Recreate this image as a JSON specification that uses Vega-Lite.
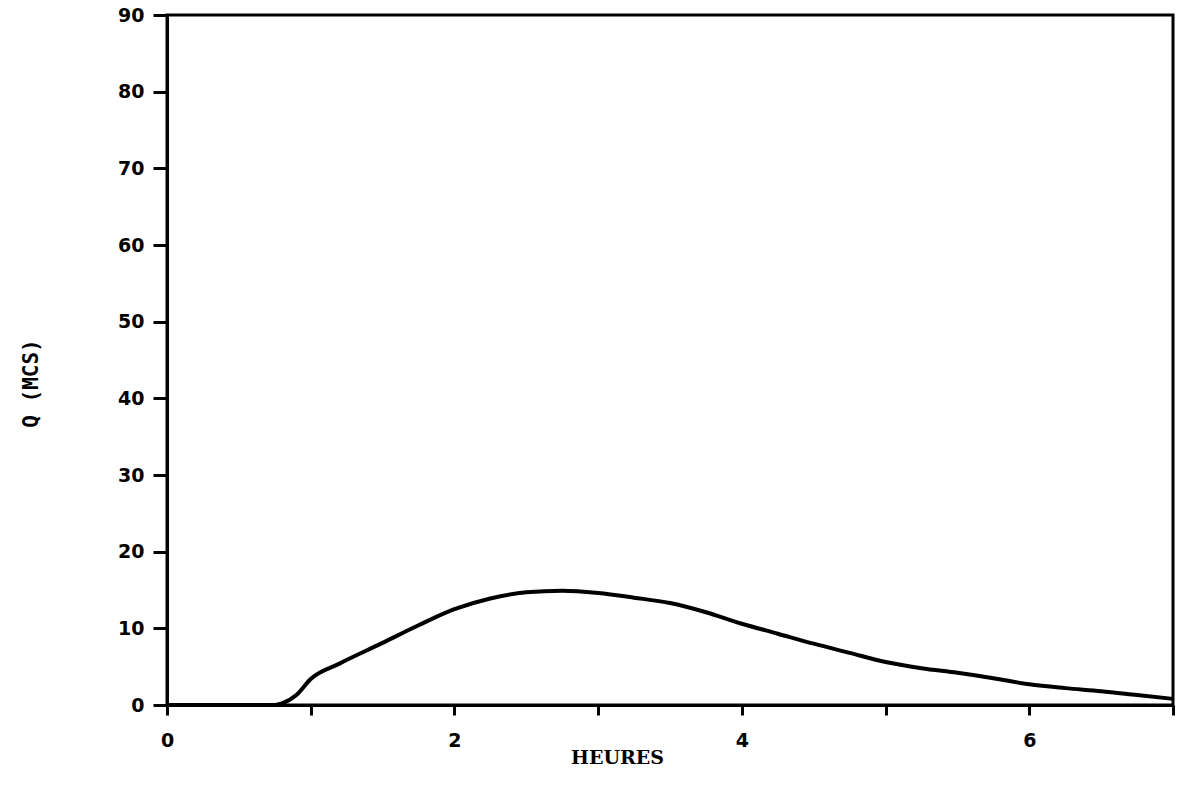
{
  "$schema": "https://vega.github.io/schema/vega-lite/v6.json",
  "autosize": {"type": "none"},
  "width": 1006,
  "height": 690,
  "padding": {"left": 167, "top": 15, "right": 4, "bottom": 94},
  "background": "white",
  "config": {
    "view": {"stroke": "black", "strokeWidth": 3},
    "font": "DejaVu Sans Mono"
  },
  "data": {
    "values": [
      {"h": 0, "q": 0}, {"h": 0.5, "q": 0}, {"h": 0.75, "q": 0}, {"h": 0.8, "q": 0.2},
      {"h": 0.9, "q": 1.3}, {"h": 1.0, "q": 3.4}, {"h": 1.2, "q": 5.4}, {"h": 1.5, "q": 8.1},
      {"h": 1.75, "q": 10.4}, {"h": 2.0, "q": 12.5}, {"h": 2.25, "q": 13.9}, {"h": 2.5, "q": 14.7},
      {"h": 2.75, "q": 14.9}, {"h": 3.0, "q": 14.6}, {"h": 3.25, "q": 14.0}, {"h": 3.5, "q": 13.3},
      {"h": 3.75, "q": 12.1}, {"h": 4.0, "q": 10.6}, {"h": 4.25, "q": 9.3}, {"h": 4.5, "q": 8.0},
      {"h": 4.75, "q": 6.8}, {"h": 5.0, "q": 5.6}, {"h": 5.25, "q": 4.8}, {"h": 5.5, "q": 4.2},
      {"h": 5.75, "q": 3.5}, {"h": 6.0, "q": 2.7}, {"h": 6.25, "q": 2.2}, {"h": 6.5, "q": 1.8},
      {"h": 6.75, "q": 1.3}, {"h": 7.0, "q": 0.8}
    ]
  },
  "mark": {"type": "line", "color": "black", "strokeWidth": 4, "interpolate": "monotone"},
  "encoding": {
    "x": {
      "field": "h", "type": "quantitative",
      "scale": {"domain": [0, 7], "nice": false, "zero": false},
      "axis": {
        "title": "HEURES", "values": [0, 1, 2, 3, 4, 5, 6, 7],
        "labelExpr": "datum.value % 2 == 0 && datum.value < 7 ? datum.label : ''",
        "labelFlush": false,
        "grid": false, "domainColor": "black", "domainWidth": 3,
        "tickColor": "black", "tickWidth": 3, "tickSize": 10,
        "labelFont": "DejaVu Sans", "labelFontWeight": "bold", "labelFontSize": 19, "labelColor": "black",
        "labelPadding": 16,
        "titleFont": "DejaVu Serif", "titleFontWeight": "bold", "titleFontSize": 19, "titleColor": "black",
        "titleX": 450, "titleY": 52, "titleBaseline": "middle"
      }
    },
    "y": {
      "field": "q", "type": "quantitative",
      "scale": {"domain": [0, 90], "nice": false},
      "axis": {
        "title": "Q (MCS)", "values": [0, 10, 20, 30, 40, 50, 60, 70, 80, 90],
        "labelFlush": false,
        "grid": false, "domainColor": "black", "domainWidth": 3,
        "tickColor": "black", "tickWidth": 3, "tickSize": 14,
        "labelFont": "DejaVu Sans", "labelFontWeight": "bold", "labelFontSize": 19, "labelColor": "black",
        "labelPadding": 9,
        "titleFont": "DejaVu Sans Mono", "titleFontWeight": "bold", "titleFontSize": 21, "titleColor": "black",
        "titleX": -136, "titleY": 368, "titleBaseline": "middle"
      }
    }
  }
}
